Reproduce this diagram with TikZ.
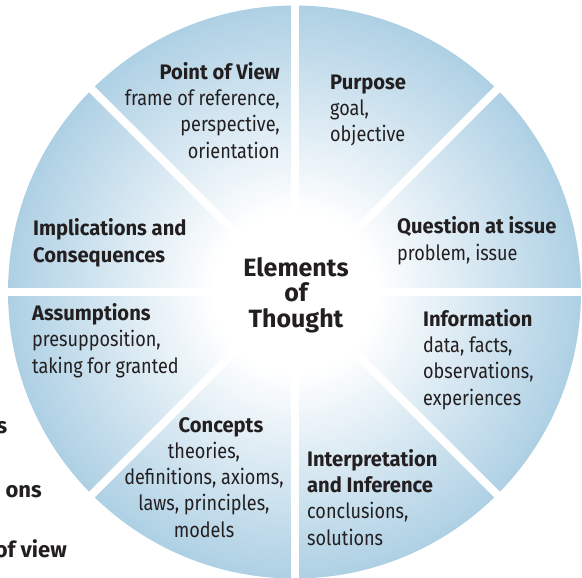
\documentclass[tikz,border=0pt]{standalone}
\usepackage{fontspec}
\setmainfont{Fira Sans}[UprightFeatures={FakeStretch=0.86}, BoldFeatures={FakeStretch=0.96}]
\newfontfamily\widefont{Fira Sans}
\definecolor{edgeblue}{RGB}{174,208,228}
\definecolor{txt}{RGB}{35,31,32}
\pgfdeclareradialshading{wheel}{\pgfpoint{0bp}{0bp}}{color(0bp)=(white); color(7bp)=(white); color(25bp)=(edgeblue); color(50bp)=(edgeblue)}
\tikzset{
  lbl/.style={inner sep=0pt, text=txt, font=\fontsize{21}{26.3}\selectfont},
  ctr/.style={inner sep=0pt, text=txt, align=center, font=\widefont\bfseries\fontsize{25}{25.5}\selectfont},
  side/.style={inner sep=0pt, text=txt, anchor=base east, font=\widefont\bfseries\fontsize{22}{26}\selectfont},
  sep/.style={white, line width=8pt}
}
\begin{document}
\begin{tikzpicture}[x=1pt,y=-1pt]
\useasboundingbox (0,0) rectangle (582,578);
\clip (0,0) rectangle (582,578);
\coordinate (c) at (294.5,292);
\path[shading=wheel] (c) circle[radius=286.5];
\foreach \a in {0,45,...,315} \draw[sep] (c) -- ++(\a:289);
% side fragments
\node[side] (s1) at (7.5,433) {s};
\node[side] (s2) at (42,497) {ons};
\node[side] (s3) at (67,557) {of view};
% centre (base = last line)
\node[ctr, anchor=base] (elem) at (296,327) {Elements\\of\\Thought};
% sectors (base anchor = baseline of last line)
\node[lbl, anchor=base east, align=right] (pov) at (280,158) {\textbf{Point of View}\\frame of reference,\\perspective,\\orientation};
\node[lbl, anchor=base west, align=left] (purp) at (330,142) {\textbf{Purpose}\\goal,\\objective};
\node[lbl, anchor=base west, align=left] (quest) at (397,260) {\textbf{Question at issue}\\problem, issue};
\node[lbl, anchor=base west, align=left] (impl) at (33,262) {\textbf{Implications and}\\\textbf{Consequences}};
\node[lbl, anchor=base west, align=left] (assum) at (32,373) {\textbf{Assumptions}\\presupposition,\\taking for granted};
\node[lbl, anchor=base, font=\bfseries\fontsize{21}{26.3}\selectfont] (conc) at (221,432) {Concepts};
\node[lbl, anchor=base, align=center] (concb) at (204,537) {theories,\\definitions, axioms,\\laws, principles,\\models};
\node[lbl, anchor=base west, align=left] (info) at (423,405) {\textbf{Information}\\data, facts,\\observations,\\experiences};
\node[lbl, anchor=base west, align=left] (interp) at (307,545) {\textbf{Interpretation}\\\textbf{and Inference}\\conclusions,\\solutions};
\end{tikzpicture}
\end{document}
